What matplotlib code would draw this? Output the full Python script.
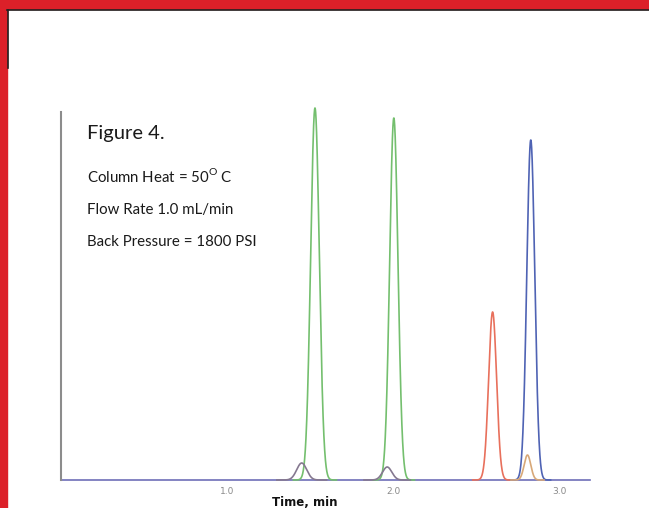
import numpy as np
from matplotlib import pyplot as plt
from matplotlib.patches import Rectangle
from matplotlib.lines import Line2D

# peaks (time in min, height in detector units, width sigma in min)
peak_times = [1.53, 2.005, 2.60, 2.83, 1.45, 1.965, 2.81]
peak_heights = [372, 362, 168, 340, 17, 13, 25]
peak_sigmas = [0.026, 0.025, 0.024, 0.024, 0.03, 0.028, 0.02]
peak_colors = ["#74bf6e", "#74bf6e", "#e8705c", "#4f63b4", "#857890", "#857890", "#d8a878"]

tick_values = [1.0, 2.0, 3.0]
tick_labels = ["1.0", "2.0", "3.0"]
conditions = ["Column Heat = 50$^\\mathregular{O}$ C", "Flow Rate 1.0 mL/min", "Back Pressure = 1800 PSI"]

W, H = 649, 508
fig = plt.figure(figsize=(W / 100, H / 100), dpi=100)
fig.patch.set_facecolor("white")

# red page frame
red = "#dc2029"
fig.add_artist(Rectangle((0, 1 - 9 / H), 1, 9 / H, transform=fig.transFigure, color=red, zorder=0))
fig.add_artist(Rectangle((0, 0), 7 / W, 1, transform=fig.transFigure, color=red, zorder=0))
fig.add_artist(Line2D([7 / W, 1], [1 - 9.5 / H, 1 - 9.5 / H], transform=fig.transFigure, color="#222222", lw=1.2))
fig.add_artist(Line2D([7.5 / W, 7.5 / W], [1 - 9.5 / H, 1 - 68 / H], transform=fig.transFigure, color="#222222", lw=1.2))

ax_left, ax_right, ax_bottom, ax_top = 61, 590, 480, 112
ax = fig.add_axes([ax_left / W, 1 - ax_bottom / H, (ax_right - ax_left) / W, (ax_bottom - ax_top) / H])
ax.set_xlim(0, (ax_right - ax_left) / 166)
ax.set_ylim(0, ax_bottom - ax_top)

t = np.linspace(0, 3.2, 4000)
for t0, h, s, c in zip(peak_times, peak_heights, peak_sigmas, peak_colors):
    mask = np.abs(t - t0) < 5 * s
    tt = t[mask]
    ax.plot(tt, h * np.exp(-0.5 * ((tt - t0) / s) ** 2), color=c, lw=1.2, clip_on=False)

for spine in ["top", "right"]:
    ax.spines[spine].set_visible(False)
ax.spines["left"].set_color("#8c8c8c")
ax.spines["left"].set_linewidth(1.5)
ax.spines["bottom"].set_color("#6e6eb8")
ax.spines["bottom"].set_linewidth(1.2)
ax.spines["bottom"].set_zorder(0)

ax.set_yticks([])
ax.set_xticks(tick_values)
ax.set_xticklabels(tick_labels, fontsize=6.5, color="#8a8a8a")
ax.tick_params(axis="x", length=0, pad=5)

fig.text(305 / W, 1 - 502 / H, "Time, min", fontsize=8.5, fontweight="bold", ha="center", va="center", color="#111111")

fig.text(87 / W, 1 - 139 / H, "Figure 4.", fontsize=14.5, family="Lato", ha="left", va="baseline", color="#1a1a1a")
for i, line in enumerate(conditions):
    fig.text(87 / W, 1 - (182.5 + 31.5 * i) / H, line, fontsize=10.8, family="Lato", ha="left", va="baseline", color="#1a1a1a")

fig.savefig("out.png", dpi=100)
